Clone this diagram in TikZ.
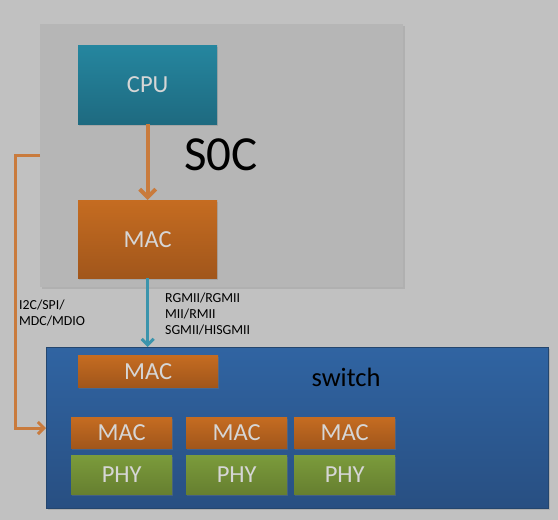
\documentclass[tikz,border=0pt]{standalone}
\usepackage{fontspec}
\setmainfont{Carlito}
\usetikzlibrary{arrows.meta,shadows}

\definecolor{bggray}{HTML}{C1C1C1}
\definecolor{socgray}{HTML}{B6B6B6}
\definecolor{cpuTop}{HTML}{25869F}
\definecolor{cpuBot}{HTML}{1E6A80}
\definecolor{macTop}{HTML}{C56C21}
\definecolor{macBot}{HTML}{A1561B}
\definecolor{phyTop}{HTML}{7B9B3B}
\definecolor{phyBot}{HTML}{667F30}
\definecolor{swTop}{HTML}{3064A2}
\definecolor{swBot}{HTML}{284F82}
\definecolor{swEdge}{HTML}{24466E}
\definecolor{boxtext}{HTML}{D6D6D6}
\definecolor{wireOrange}{HTML}{C97B3D}
\definecolor{wireBlue}{HTML}{3B94AC}

\begin{document}
\begin{tikzpicture}[x=1pt,y=-1pt,
    block/.style={inner sep=0pt, anchor=north west, text=boxtext,
        font=\fontsize{24.5}{24.5}\selectfont,
        drop shadow={opacity=0.3,shadow xshift=1pt,shadow yshift=-1.5pt}},
    cpubox/.style={block, top color=cpuTop, bottom color=cpuBot},
    macbox/.style={block, top color=macTop, bottom color=macBot},
    phybox/.style={block, top color=phyTop, bottom color=phyBot},
    wire/.style={line width=3pt, -{Straight Barb[length=6pt,width=12pt]}},
    buslabel/.style={anchor=north west, inner sep=0pt, align=left,
        font=\fontsize{13.8}{16}\selectfont}
  ]
  \useasboundingbox[fill=bggray] (0,0) rectangle (558,520);

  % SoC side
  \node (soc) [anchor=north west, inner sep=0pt, fill=socgray,
       minimum width=363pt, minimum height=263pt,
       drop shadow={opacity=0.25,shadow xshift=1.5pt,shadow yshift=-1.5pt}] at (40,24) {};
  \node (soctext) [font=\fontsize{49}{49}\selectfont] at (221,155) {S0C};
  \node (cpu) [cpubox, minimum width=139pt, minimum height=79pt] at (78,45) {CPU};
  \node (socmac) [macbox, minimum width=139pt, minimum height=78pt] at (78,200) {MAC};
  \draw[wireOrange, line width=4pt, -{Straight Barb[length=8pt,width=16pt]}]
       (cpu.south) -- (socmac.north);

  % switch side
  \node (switch) [anchor=north west, inner sep=0pt, top color=swTop, bottom color=swBot,
       draw=swEdge, line width=1pt, minimum width=502pt, minimum height=161pt,
       drop shadow={opacity=0.3,shadow xshift=1pt,shadow yshift=-1.5pt}] at (46,347) {};
  \node (swtext) [font=\fontsize{26.5}{26.5}\selectfont] at (346,377) {switch};
  \node (upmac) [macbox, minimum width=140pt, minimum height=32pt] at (78,355) {MAC};
  \foreach \name/\x in {A/71,B/186,C/294}{
    \node (mac\name) [macbox, minimum width=101pt, minimum height=31pt] at (\x,417) {MAC};
    \node (phy\name) [phybox, minimum width=101pt, minimum height=39pt] at (\x,455) {PHY};
  }

  % links
  \draw[wire, wireBlue] (socmac.south) -- (socmac.south |- switch.north);
  \node (mii) [buslabel] at (165,293) {RGMII/RGMII\\MII/RMII\\SGMII/HISGMII};
  \draw[wire, wireOrange, line cap=butt] (soc.west) -- ++(-25,0) |- (switch.west);
  \node (mdio) [buslabel] at (19,300) {I2C/SPI/\\MDC/MDIO};
\end{tikzpicture}
\end{document}
